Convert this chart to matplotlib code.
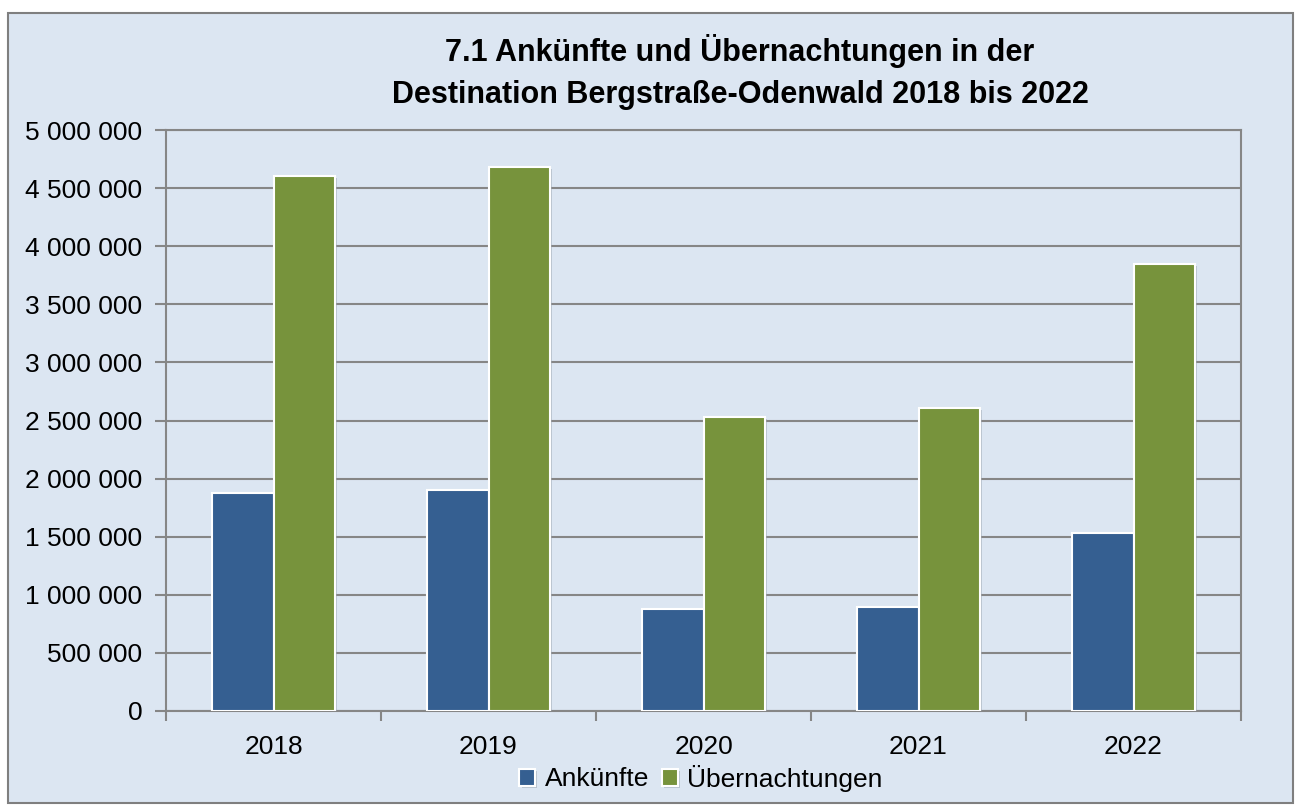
import matplotlib
matplotlib.use("Agg")
import matplotlib.pyplot as plt
import matplotlib.patches as mpatches
import matplotlib.patheffects as pe
from matplotlib.ticker import FuncFormatter, MultipleLocator
import numpy as np

plt.rcParams['font.family'] = ['Liberation Sans', 'DejaVu Sans']

years = ["2018", "2019", "2020", "2021", "2022"]
ankuenfte = [1876000, 1902000, 880000, 895000, 1532000]
uebernachtungen = [4604000, 4679000, 2527000, 2608000, 3847000]
series_names = ["Ankünfte", "Übernachtungen"]
title = "7.1 Ankünfte und Übernachtungen in der\nDestination Bergstraße-Odenwald 2018 bis 2022"

BG = "#DCE6F2"
BLUE = "#355F91"
GREEN = "#77933C"
GRID = "#868686"

fig = plt.figure(figsize=(13, 8.1), dpi=100)
fig.patch.set_facecolor("white")
# outer frame
fig.patches.append(mpatches.Rectangle((8/1300, 1-803/810), (1293-8)/1300, (803-13)/810,
                                      transform=fig.transFigure, facecolor=BG,
                                      edgecolor="#7F7F7F", linewidth=1.5, zorder=-5))

ax = fig.add_axes([166/1300, 1-711/810, (1241-166)/1300, (711-130)/810])
ax.set_zorder(2)
ax.set_facecolor(BG)

x = np.arange(len(years))
w = 0.284
shadow = [pe.SimplePatchShadow(offset=(1.5, -1.5), shadow_rgbFace="#9aa3ad", alpha=0.5), pe.Normal()]
ax.bar(x - w/2, ankuenfte, width=w, color=BLUE, edgecolor="white", linewidth=1.5,
       label=series_names[0], zorder=3, path_effects=shadow)
ax.bar(x + w/2, uebernachtungen, width=w, color=GREEN, edgecolor="white", linewidth=1.5,
       label=series_names[1], zorder=3, path_effects=shadow)

ax.set_xlim(-0.5, len(years) - 0.5)
ax.set_ylim(0, 5000000)
ax.yaxis.set_major_locator(MultipleLocator(500000))
ax.yaxis.set_major_formatter(FuncFormatter(lambda v, p: f"{int(v):,}".replace(",", " ")))
ax.grid(axis="y", color=GRID, linewidth=1.5, zorder=1)
ax.set_axisbelow(True)

ax.set_xticks(x)
ax.set_xticklabels(years)
ax.set_xticks(np.arange(-0.5, len(years)), minor=True)
ax.tick_params(axis="x", which="major", length=0, pad=17, labelsize=19)
ax.tick_params(axis="x", which="minor", length=7, width=1.5, color=GRID, direction="out")
ax.tick_params(axis="y", which="major", length=8, width=1.5, color=GRID, labelsize=19, pad=9)

for s in ax.spines.values():
    s.set_color(GRID)
    s.set_linewidth(1.5)

fig.text(740/1300, 1-72/810, title, ha="center", va="center", fontsize=22,
         fontweight="bold", linespacing=1.55)

leg = fig.legend(loc="center", bbox_to_anchor=(701/1300, 1-778/810), ncol=2, frameon=False,
                 fontsize=19, handlelength=0.6, handleheight=0.6, handletextpad=0.35,
                 columnspacing=0.5)

fig.savefig("out.png", dpi=100, facecolor=fig.get_facecolor())
